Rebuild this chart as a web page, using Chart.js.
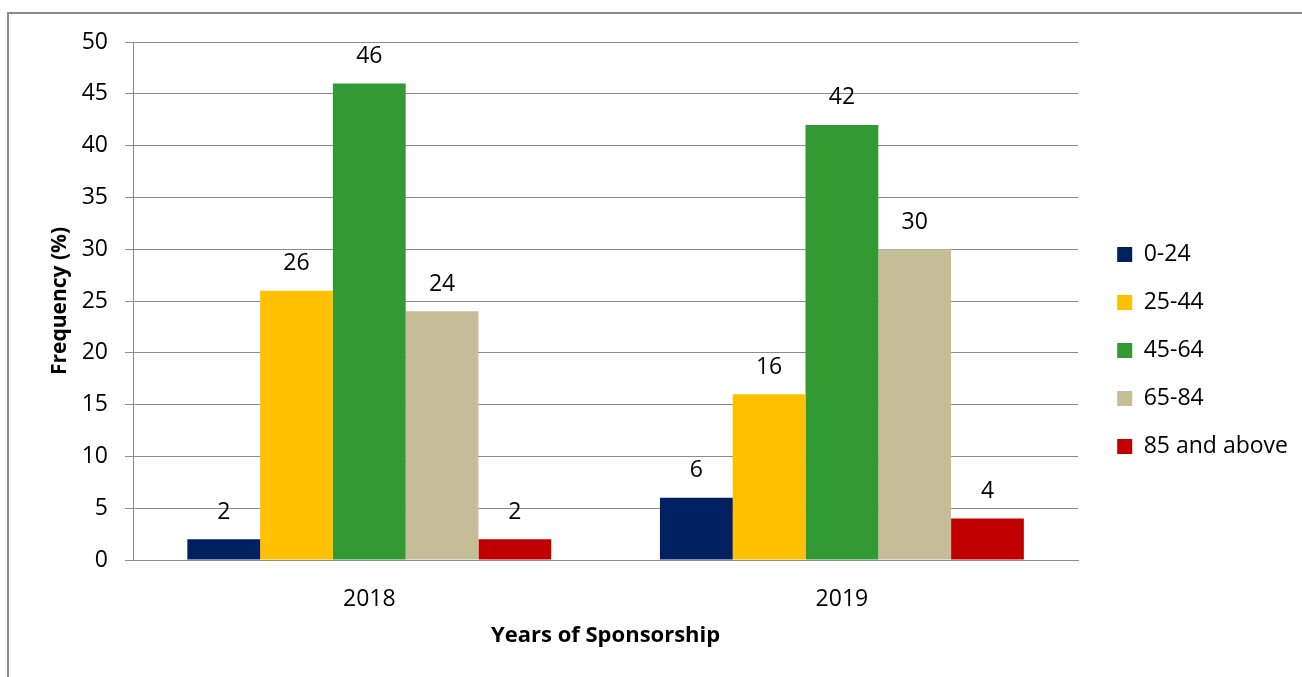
<!DOCTYPE html>
<html>
<head>
<meta charset="utf-8">
<script src="https://cdn.jsdelivr.net/npm/chart.js@4"></script>
<style>
  html, body { margin: 0; padding: 0; background: #fff; overflow: hidden; }
  #wrap { position: relative; width: 1302px; height: 677px; }
  #frame { position: absolute; left: 7px; top: 12px; width: 1400px; height: 800px; border: 2px solid #8c8c8c; }
  canvas { position: absolute; left: 0; top: 0; }
</style>
</head>
<body>
<div id="wrap">
  <div id="frame"></div>
  <canvas id="chart" width="1302" height="677"></canvas>
</div>
<script>
const years = ['2018', '2019'];
const ageGroups = ['0-24', '25-44', '45-64', '65-84', '85 and above'];
const age0to24 = [2, 6];
const age25to44 = [26, 16];
const age45to64 = [46, 42];
const age65to84 = [24, 30];
const age85plus = [2, 4];
const yTicks = [0, 5, 10, 15, 20, 25, 30, 35, 40, 45, 50];

const colors = ['#002060', '#FFC000', '#339933', '#C4BD97', '#C00000'];
const FONT = "'Open Sans', sans-serif";

// value labels above each bar
const barLabels = {
  id: 'barLabels',
  afterDatasetsDraw(chart) {
    const ctx = chart.ctx;
    ctx.save();
    ctx.font = '23px ' + FONT;
    ctx.fillStyle = '#000';
    ctx.textAlign = 'center';
    ctx.textBaseline = 'middle';
    chart.data.datasets.forEach((ds, i) => {
      chart.getDatasetMeta(i).data.forEach((bar, j) => {
        ctx.fillText(String(ds.data[j]), bar.x, bar.y - 27);
      });
    });
    ctx.restore();
  }
};

// nudge the legend block right of the plot and up a little
const legendNudge = {
  id: 'legendNudge',
  afterLayout(chart) {
    const lg = chart.legend;
    lg.left += 14;
    lg.right += 14;
    lg.top -= 9;
    lg.bottom -= 9;
  }
};

const series = [age0to24, age25to44, age45to64, age65to84, age85plus];

new Chart(document.getElementById('chart'), {
  type: 'bar',
  data: {
    labels: years,
    datasets: ageGroups.map((g, i) => ({
      label: g,
      data: series[i],
      backgroundColor: colors[i],
      barPercentage: 1,
      categoryPercentage: 0.77
    }))
  },
  options: {
    responsive: false,
    animation: false,
    layout: { padding: { top: 42, right: 18, bottom: 0, left: 0 } },
    plugins: {
      tooltip: { enabled: false },
      legend: {
        position: 'right',
        labels: {
          boxWidth: 15,
          boxHeight: 15,
          padding: 25,
          color: '#000',
          font: { family: FONT, size: 23 }
        }
      }
    },
    scales: {
      x: {
        grid: { display: false },
        border: { display: true, color: '#8c8c8c', width: 1 },
        ticks: { color: '#000', padding: 18, font: { family: FONT, size: 23 } },
        title: {
          display: true,
          text: 'Years of Sponsorship',
          color: '#000',
          font: { family: FONT, size: 22, weight: 'bold' },
          padding: { top: 0, bottom: 28 }
        },
        afterFit: s => { s.height = 117; }
      },
      y: {
        min: 0,
        max: 50,
        afterBuildTicks: s => { s.ticks = yTicks.map(v => ({ value: v })); },
        grid: { color: '#8c8c8c', lineWidth: 1, tickLength: 8 },
        border: { display: true, color: '#8c8c8c', width: 1 },
        ticks: { color: '#000', padding: 17, font: { family: FONT, size: 23 } },
        title: {
          display: true,
          text: 'Frequency (%)',
          color: '#000',
          font: { family: FONT, size: 21, weight: 'bold' },
          padding: { top: 47, bottom: 0 }
        },
        afterFit: s => { s.width = 133; }
      }
    }
  },
  plugins: [barLabels, legendNudge]
});
</script>
</body>
</html>
